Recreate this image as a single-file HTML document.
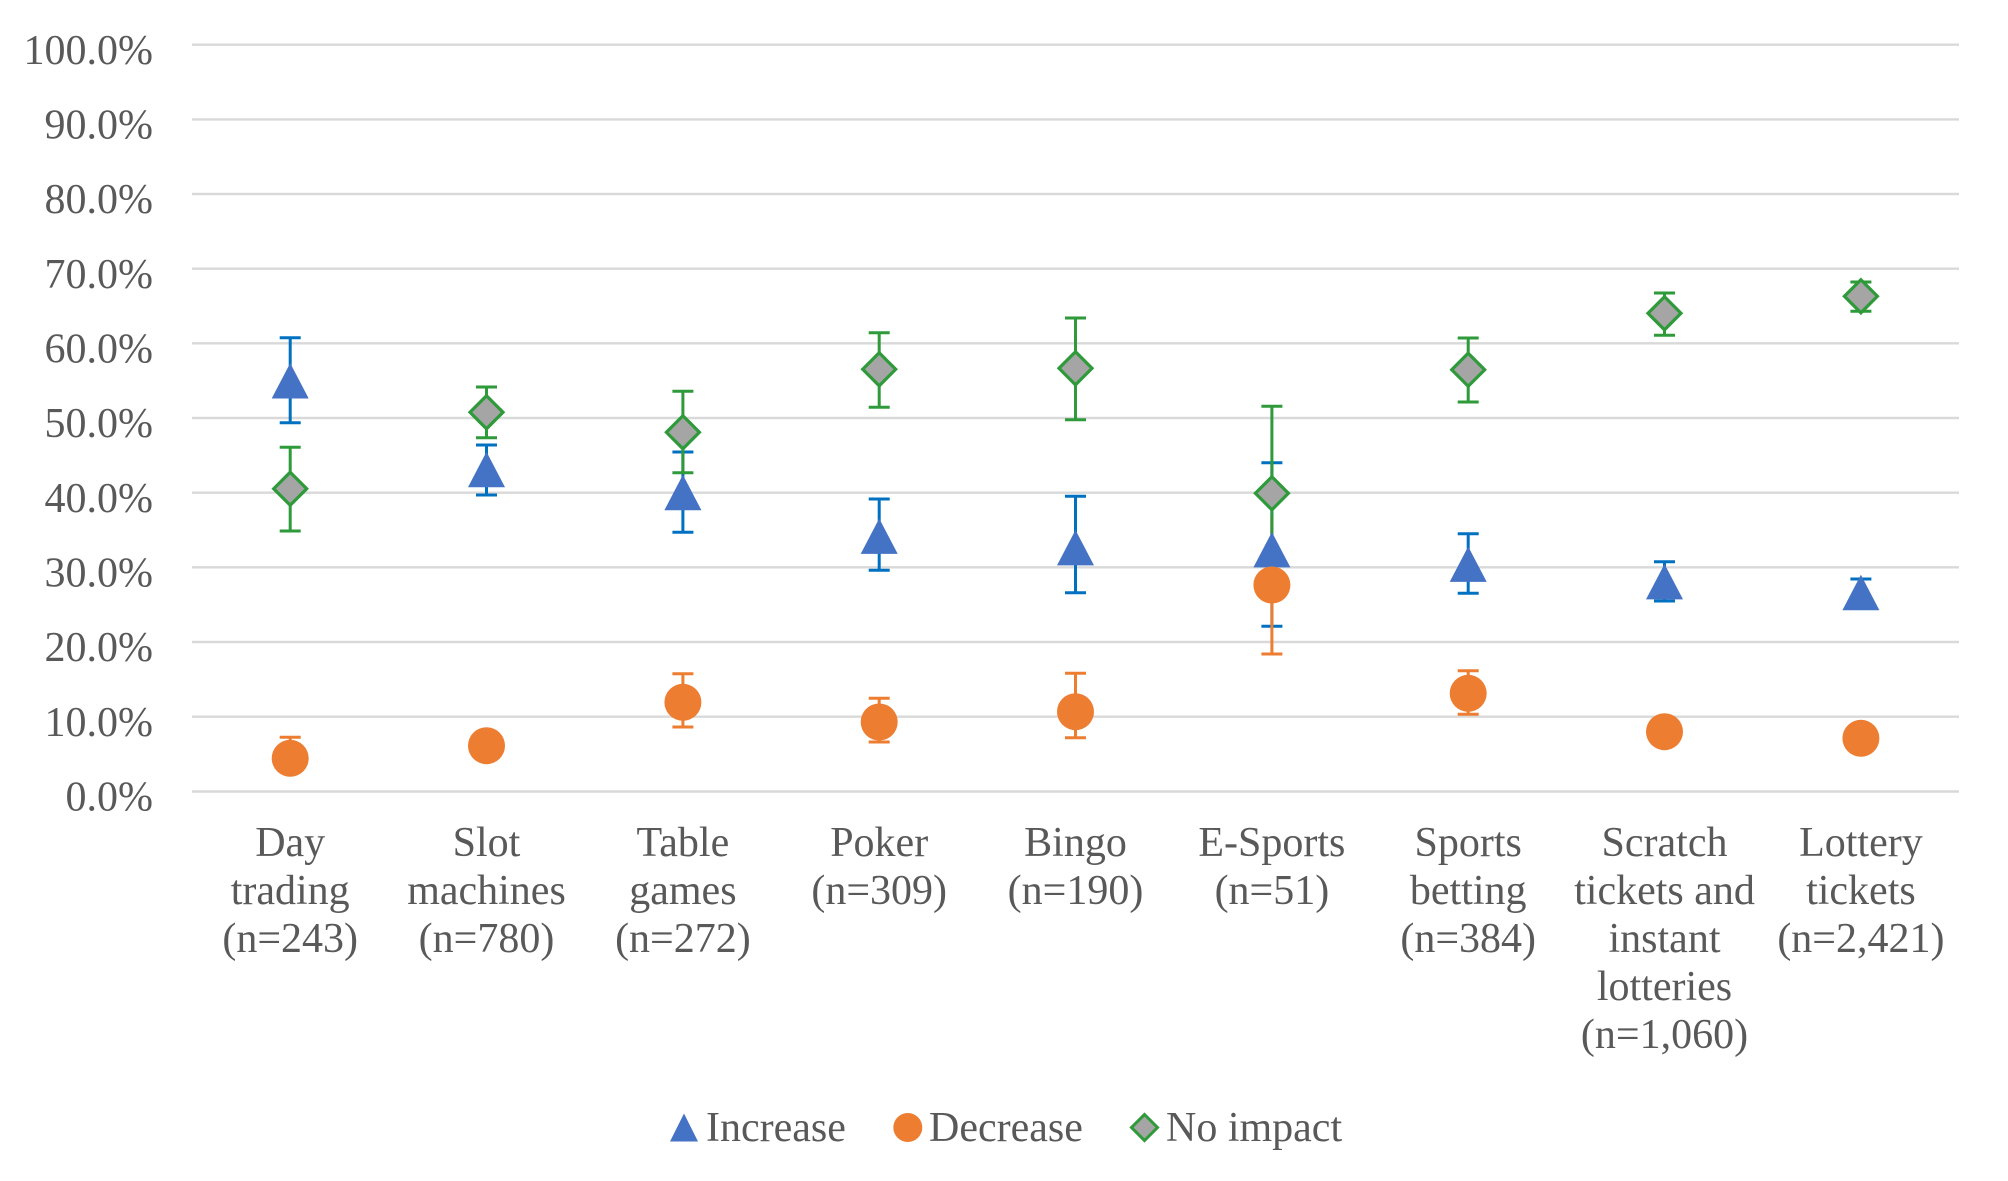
<!DOCTYPE html>
<html>
<head>
<meta charset="utf-8">
<style>
  html, body { margin: 0; padding: 0; background: #ffffff; }
  body { width: 2008px; height: 1181px; overflow: hidden; }
  svg { display: block; }
  text { font-family: "Liberation Serif", "Times New Roman", serif; fill: #595959; font-size: 42px; }
</style>
</head>
<body>
<svg width="2008" height="1181" viewBox="0 0 2008 1181" xmlns="http://www.w3.org/2000/svg">
  <rect x="0" y="0" width="2008" height="1181" fill="#ffffff"/>

  <!-- gridlines -->
  <g stroke="#d9d9d9" stroke-width="2.4">
    <line x1="192" y1="44.7" x2="1959" y2="44.7"/>
    <line x1="192" y1="119.4" x2="1959" y2="119.4"/>
    <line x1="192" y1="194" x2="1959" y2="194"/>
    <line x1="192" y1="268.7" x2="1959" y2="268.7"/>
    <line x1="192" y1="343.3" x2="1959" y2="343.3"/>
    <line x1="192" y1="418" x2="1959" y2="418"/>
    <line x1="192" y1="492.7" x2="1959" y2="492.7"/>
    <line x1="192" y1="567.3" x2="1959" y2="567.3"/>
    <line x1="192" y1="642" x2="1959" y2="642"/>
    <line x1="192" y1="716.7" x2="1959" y2="716.7"/>
    <line x1="192" y1="791.5" x2="1959" y2="791.5"/>
  </g>

  <!-- y-axis labels -->
  <g text-anchor="end">
    <text x="153" y="64">100.0%</text>
    <text x="153" y="138.5">90.0%</text>
    <text x="153" y="213">80.0%</text>
    <text x="153" y="288">70.0%</text>
    <text x="153" y="362.5">60.0%</text>
    <text x="153" y="437">50.0%</text>
    <text x="153" y="512">40.0%</text>
    <text x="153" y="586.5">30.0%</text>
    <text x="153" y="661">20.0%</text>
    <text x="153" y="736">10.0%</text>
    <text x="153" y="810.5">0.0%</text>
  </g>

  <!-- Error bars: Increase (blue) -->
  <g stroke="#0070c0" stroke-width="3" fill="none">
    <path d="M290.2 337.7V422.7 M279.7 337.7H300.7 M279.7 422.7H300.7"/>
    <path d="M486.5 445V495 M476 445H497 M476 495H497"/>
    <path d="M682.9 452V532.3 M672.4 452H693.4 M672.4 532.3H693.4"/>
    <path d="M879.2 499V570.3 M868.7 499H889.7 M868.7 570.3H889.7"/>
    <path d="M1075.5 496.3V592.7 M1065 496.3H1086 M1065 592.7H1086"/>
    <path d="M1271.9 462.7V626.3 M1261.4 462.7H1282.4 M1261.4 626.3H1282.4"/>
    <path d="M1468.2 533.7V593.3 M1457.7 533.7H1478.7 M1457.7 593.3H1478.7"/>
    <path d="M1664.5 561.7V601 M1654 561.7H1675 M1654 601H1675"/>
    <path d="M1860.9 579V606 M1850.4 579H1871.4 M1850.4 606H1871.4"/>
  </g>

  <!-- Error bars: Decrease (orange) -->
  <g stroke="#ed7d31" stroke-width="3" fill="none">
    <path d="M290.2 737.3V772 M279.7 737.3H300.7"/>
    <path d="M682.9 673.7V727 M672.4 673.7H693.4 M672.4 727H693.4"/>
    <path d="M879.2 698.3V742 M868.7 698.3H889.7 M868.7 742H889.7"/>
    <path d="M1075.5 673.3V737.7 M1065 673.3H1086 M1065 737.7H1086"/>
    <path d="M1271.9 516V654 M1261.4 654H1282.4"/>
    <path d="M1468.2 670.7V714.3 M1457.7 670.7H1478.7 M1457.7 714.3H1478.7"/>
  </g>

  <!-- Error bars: No impact (green) -->
  <g stroke="#2e9a3a" stroke-width="3" fill="none">
    <path d="M290.2 447.3V531 M279.7 447.3H300.7 M279.7 531H300.7"/>
    <path d="M486.5 387V437.7 M476 387H497 M476 437.7H497"/>
    <path d="M682.9 391.3V472.7 M672.4 391.3H693.4 M672.4 472.7H693.4"/>
    <path d="M879.2 332.7V407.3 M868.7 332.7H889.7 M868.7 407.3H889.7"/>
    <path d="M1075.5 318V419.7 M1065 318H1086 M1065 419.7H1086"/>
    <path d="M1271.9 406.3V580 M1261.4 406.3H1282.4 M1261.4 580H1282.4"/>
    <path d="M1468.2 338V402 M1457.7 338H1478.7 M1457.7 402H1478.7"/>
    <path d="M1664.5 293V335.3 M1654 293H1675 M1654 335.3H1675"/>
    <path d="M1860.9 282V311.3 M1850.4 282H1871.4 M1850.4 311.3H1871.4"/>
  </g>

  <!-- Markers: Increase (triangles) -->
  <g fill="#4472c4">
    <polygon points="290.2,363.1 308.7,398.5 271.7,398.5"/>
    <polygon points="486.5,451.8 505,487.2 468,487.2"/>
    <polygon points="682.9,474.8 701.4,510.2 664.4,510.2"/>
    <polygon points="879.2,518.5 897.7,553.9 860.7,553.9"/>
    <polygon points="1075.5,530 1094,565.4 1057,565.4"/>
    <polygon points="1271.9,532 1290.4,567.4 1253.4,567.4"/>
    <polygon points="1468.2,546.5 1486.7,581.9 1449.7,581.9"/>
    <polygon points="1664.5,564 1683,599.4 1646,599.4"/>
    <polygon points="1860.9,574.8 1879.4,610.2 1842.4,610.2"/>
  </g>

  <!-- Markers: Decrease (circles) -->
  <g fill="#ed7d31">
    <circle cx="290.2" cy="758.3" r="18.5"/>
    <circle cx="486.5" cy="745.7" r="18.5"/>
    <circle cx="682.9" cy="702.3" r="18.5"/>
    <circle cx="879.2" cy="722" r="18.5"/>
    <circle cx="1075.5" cy="711.7" r="18.5"/>
    <circle cx="1271.9" cy="585" r="18.5"/>
    <circle cx="1468.2" cy="693.3" r="18.5"/>
    <circle cx="1664.5" cy="731.7" r="18.5"/>
    <circle cx="1860.9" cy="738.3" r="18.5"/>
  </g>

  <!-- Markers: No impact (diamonds) -->
  <g fill="#a5a5a5" stroke="#2e9a3a" stroke-width="3.2" stroke-linejoin="miter">
    <polygon points="290.2,472.2 306.7,488.7 290.2,505.2 273.7,488.7"/>
    <polygon points="486.5,395.8 503,412.3 486.5,428.8 470,412.3"/>
    <polygon points="682.9,415.8 699.4,432.3 682.9,448.8 666.4,432.3"/>
    <polygon points="879.2,352.8 895.7,369.3 879.2,385.8 862.7,369.3"/>
    <polygon points="1075.5,351.8 1092,368.3 1075.5,384.8 1059,368.3"/>
    <polygon points="1271.9,476.8 1288.4,493.3 1271.9,509.8 1255.4,493.3"/>
    <polygon points="1468.2,353.2 1484.7,369.7 1468.2,386.2 1451.7,369.7"/>
    <polygon points="1664.5,296.8 1681,313.3 1664.5,329.8 1648,313.3"/>
    <polygon points="1860.9,279.8 1877.4,296.3 1860.9,312.8 1844.4,296.3"/>
  </g>

  <!-- x-axis category labels -->
  <g text-anchor="middle">
    <text x="290.2" y="856">Day</text>
    <text x="290.2" y="904">trading</text>
    <text x="290.2" y="952">(n=243)</text>

    <text x="486.5" y="856">Slot</text>
    <text x="486.5" y="904">machines</text>
    <text x="486.5" y="952">(n=780)</text>

    <text x="682.9" y="856">Table</text>
    <text x="682.9" y="904">games</text>
    <text x="682.9" y="952">(n=272)</text>

    <text x="879.2" y="856">Poker</text>
    <text x="879.2" y="904">(n=309)</text>

    <text x="1075.5" y="856">Bingo</text>
    <text x="1075.5" y="904">(n=190)</text>

    <text x="1271.9" y="856">E-Sports</text>
    <text x="1271.9" y="904">(n=51)</text>

    <text x="1468.2" y="856">Sports</text>
    <text x="1468.2" y="904">betting</text>
    <text x="1468.2" y="952">(n=384)</text>

    <text x="1664.5" y="856">Scratch</text>
    <text x="1664.5" y="904">tickets and</text>
    <text x="1664.5" y="952">instant</text>
    <text x="1664.5" y="1000">lotteries</text>
    <text x="1664.5" y="1048">(n=1,060)</text>

    <text x="1860.9" y="856">Lottery</text>
    <text x="1860.9" y="904">tickets</text>
    <text x="1860.9" y="952">(n=2,421)</text>
  </g>

  <!-- legend -->
  <polygon points="684,1113.5 698,1141.5 670,1141.5" fill="#4472c4"/>
  <text x="706" y="1141">Increase</text>
  <circle cx="907.8" cy="1127.5" r="14.5" fill="#ed7d31"/>
  <text x="929" y="1141">Decrease</text>
  <polygon points="1144.5,1114.5 1157.5,1127.5 1144.5,1140.5 1131.5,1127.5" fill="#a5a5a5" stroke="#2e9a3a" stroke-width="3"/>
  <text x="1166" y="1141">No impact</text>
</svg>
</body>
</html>
